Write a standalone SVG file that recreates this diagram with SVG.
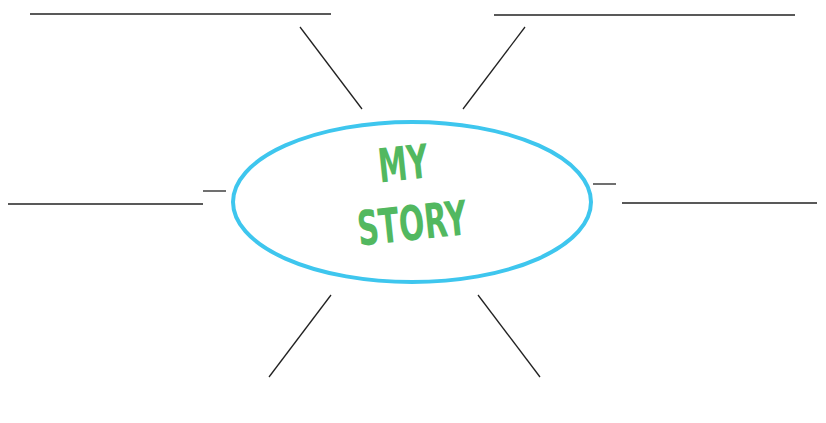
<svg xmlns="http://www.w3.org/2000/svg" width="826" height="423" viewBox="0 0 826 423">
<style>
.ln{stroke:#222;stroke-width:1.3;fill:none}
.t{font-family:"DejaVu Sans Condensed","DejaVu Sans",sans-serif;font-weight:bold;fill:#52b860;text-anchor:middle}
</style>
<rect width="826" height="423" fill="#fff"/>
<g id="connectors">
<line class="ln" x1="30" y1="14" x2="331" y2="14"/>
<line class="ln" x1="494" y1="15" x2="795" y2="15"/>
<line class="ln" x1="300" y1="27" x2="362" y2="109"/>
<line class="ln" x1="525" y1="27" x2="463" y2="109"/>
<line class="ln" x1="8" y1="204" x2="203" y2="204"/>
<line class="ln" x1="203" y1="191" x2="226" y2="191"/>
<line class="ln" x1="593" y1="184" x2="616" y2="184"/>
<line class="ln" x1="622" y1="203" x2="817" y2="203"/>
<line class="ln" x1="331" y1="295" x2="269" y2="377"/>
<line class="ln" x1="478" y1="295" x2="540" y2="377"/>
</g>
<g id="center">
<ellipse cx="412" cy="202" rx="179" ry="80" fill="#fff" stroke="#3ec6ee" stroke-width="4"/>
<text class="t" x="403" y="180" font-size="47" textLength="50" lengthAdjust="spacingAndGlyphs" transform="rotate(-6 403 163)">MY</text>
<text class="t" x="412" y="240" font-size="48" textLength="110" lengthAdjust="spacingAndGlyphs" transform="rotate(-6 412 222)">STORY</text>
</g>
</svg>
